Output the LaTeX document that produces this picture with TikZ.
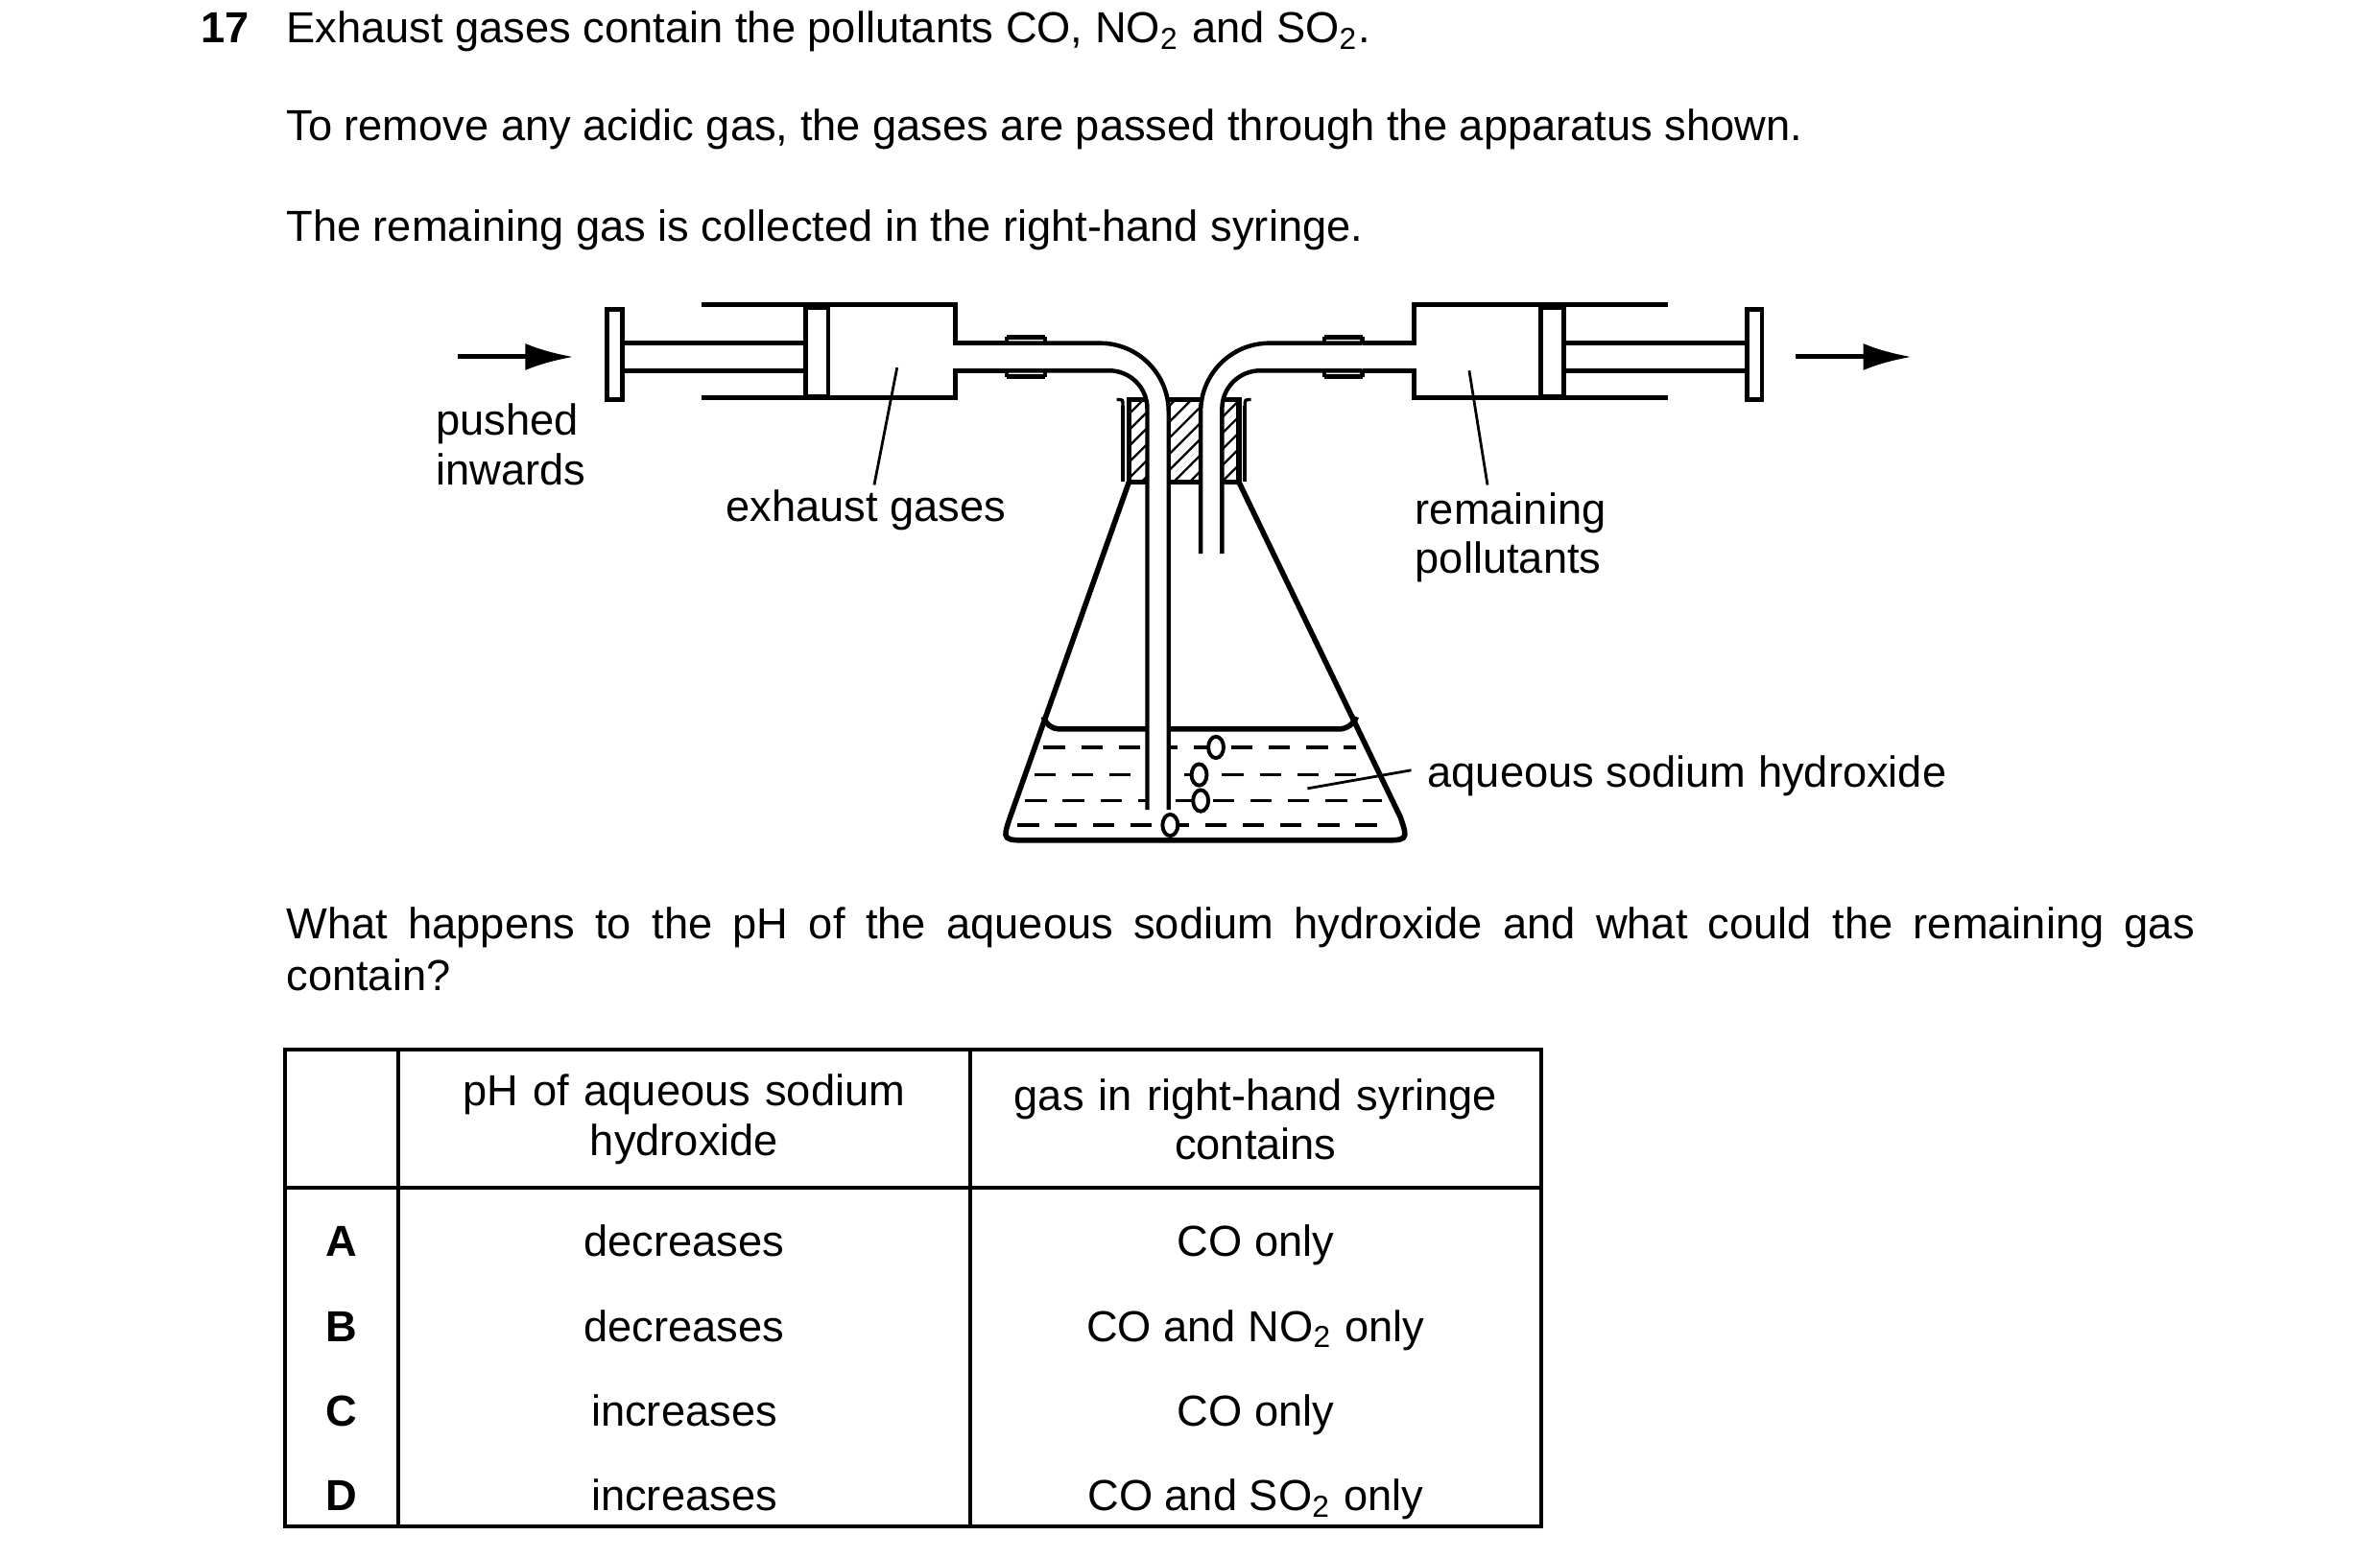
\documentclass[tikz,border=0pt]{standalone}
\usepackage{fontspec}
\setmainfont{Liberation Sans}
\usetikzlibrary{arrows.meta,patterns}

\newcommand{\syringeside}[1]{%
  % barrel
  \draw[line width=0.9pt] (460,200) -- (626,200) -- (626,225) -- (660,225);
  \draw[line width=0.9pt] (460,261) -- (626,261) -- (626,243) -- (660,243);
  % piston and handle
  \draw[line width=0.8pt, fill=white] (528,202) rectangle (543,260);
  \draw[line width=0.8pt] (408,225) -- (528,225);
  \draw[line width=0.8pt] (408,243) -- (528,243);
  \draw[line width=0.8pt, fill=white] (398,203) rectangle (408,262);
  % sleeve and delivery tube
  \draw[line width=0.8pt] (660,221) -- (685,221) (660,247) -- (685,247);
  \draw[line width=0.8pt] (660,221) -- (660,225) (685,221) -- (685,225);
  \draw[line width=0.8pt] (660,247) -- (660,243) (685,247) -- (685,243);
  \draw[line width=0.8pt, rounded corners=4.5mm] (660,225) -- (766,225) -- (766,#1);
  \draw[line width=0.8pt, rounded corners=2.5mm] (660,243) -- (752,243) -- (752,#1);
}

\tikzset{
  txt/.style={font=\fontsize{8.1}{9.8}\selectfont, inner sep=0pt},
  lead/.style={line width=0.5pt},
  hdr/.style={txt, align=center, text width=35mm},
  grid/.style={line width=0.7pt}
}

\begin{document}
\begin{tikzpicture}[x=0.1mm, y=-0.1mm]
\useasboundingbox (0,0) rectangle (1560,1022);

% question text
\node[txt, font=\fontsize{8.1}{9.8}\selectfont\bfseries, anchor=base west] (num) at (131,28) {17};
\node[txt, anchor=base west] (q1) at (187,28) {Exhaust gases contain the pollutants CO, NO\textsubscript{2} and SO\textsubscript{2}.};
\node[txt, anchor=base west] (q2) at (187,92) {To remove any acidic gas, the gases are passed through the apparatus shown.};
\node[txt, anchor=base west] (q3) at (187,158) {The remaining gas is collected in the right-hand syringe.};

% flask
\draw[line width=1pt] (740,316) -- (662,536) .. controls (657,551) .. (676,551) -- (904,551) .. controls (923,551) .. (918,536) -- (812,316);
\draw[line width=1pt, rounded corners=0.8mm] (684,470) -- (686,478) -- (886,478) -- (889,470);
\foreach \y/\xl/\xr in {490/684/889, 508/678/898, 525/672/906, 541/667/913}
  \draw[line width=0.6pt, dash pattern=on 4pt off 3pt] (\xl,\y) -- (\xr,\y);
% neck
\draw[line width=0.8pt] (736,266) -- (736,316);
\draw[line width=0.8pt] (816,266) -- (816,316);
\draw[line width=0.6pt] (736,266) .. controls (736,262) .. (732,262);
\draw[line width=0.6pt] (816,266) .. controls (816,262) .. (820,262);
% stopper
\draw[line width=1pt, pattern=north east lines] (740,262) rectangle (812,316);

% tubes
\fill[white] (752,250) rectangle (766,531);
\fill[white] (787,250) rectangle (801,363);
\syringeside{531}
\begin{scope}[shift={(1553,0)}, xscale=-1]
\syringeside{363}
\end{scope}

% bubbles
\foreach \bx/\by in {797/490, 786/508, 787/525, 767/541}
  \draw[line width=0.7pt, fill=white] (\bx,\by) ellipse (5 and 7);

% arrows
\coordinate (inA) at (300,234);
\coordinate (inB) at (376,234);
\coordinate (outA) at (1177,234);
\coordinate (outB) at (1253,234);
\draw[line width=0.9pt, -{Latex[length=9pt,width=5pt]}] (inA) -- (inB);
\draw[line width=0.9pt, -{Latex[length=9pt,width=5pt]}] (outA) -- (outB);

% labels
\node[txt, anchor=base west, align=left] (push) at (285,318) {pushed\\[-0.2mm]inwards};
\node[txt, anchor=base west] (exh) at (475,342) {exhaust gases};
\node[txt, anchor=base west, align=left] (rem) at (927,376) {remaining\\[-0.2mm]pollutants};
\node[txt, anchor=base west] (naoh) at (935,516) {aqueous sodium hydroxide};
\coordinate (exhP) at (588,241);
\coordinate (remP) at (963,243);
\coordinate (naohP) at (857,517);
\draw[lead] (exhP) -- (573,318);
\draw[lead] (remP) -- (975,318);
\draw[lead] (naohP) -- (925,505);

% second question
\node[txt, anchor=north west, text width=125.1mm, align=justify] (q4) at (187,594)
  {What happens to the pH of the aqueous sodium hydroxide and what could the remaining gas\linebreak contain?};

% table
\draw[grid] (187,688) rectangle (1010,1001);
\draw[grid] (187,779) -- (1010,779);
\draw[grid] (261,688) -- (261,1001);
\draw[grid] (636,688) -- (636,1001);
\node[hdr] (h1) at (448.5,734) {pH of aqueous sodium\\[-0.2mm]hydroxide};
\node[hdr] (h2) at (823,734) {gas in right-hand syringe\\[-0.2mm]contains};
\foreach \l/\p/\g [count=\i from 0] in {A/decreases/CO only, B/decreases/CO and NO\textsubscript{2} only, C/increases/CO only, D/increases/CO and SO\textsubscript{2} only}{
  \node[txt, font=\fontsize{8.1}{9.8}\selectfont\bfseries, anchor=base] (k\l) at (224,824+55.5*\i) {\l};
  \node[txt, anchor=base] (p\l) at (448.5,824+55.5*\i) {\p};
  \node[txt, anchor=base] (g\l) at (823,824+55.5*\i) {\g};
}
\end{tikzpicture}
\end{document}
